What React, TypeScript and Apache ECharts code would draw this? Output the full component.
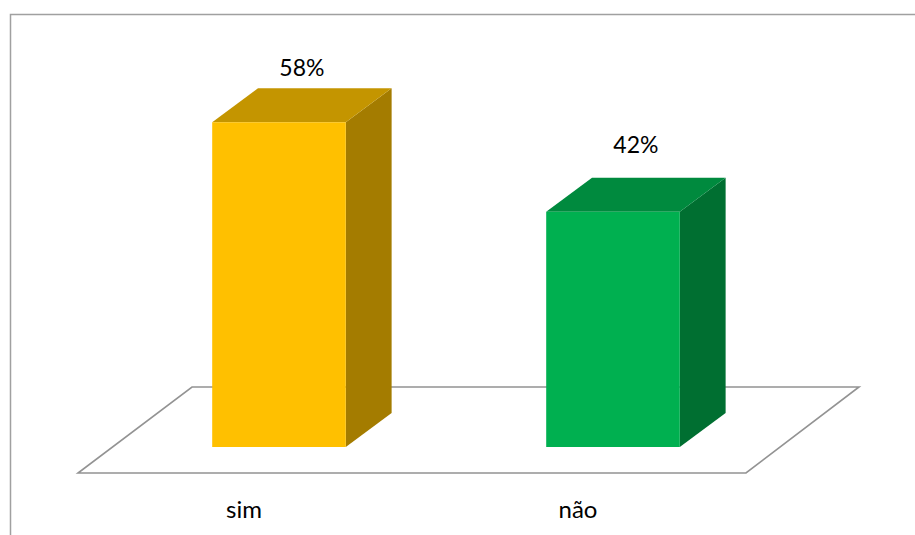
import React, { useEffect, useRef } from "react";
import * as echarts from "echarts";

const categories = ["sim", "não"];
const values = [58, 42];
const valueLabels = ["58%", "42%"];

const FRONT = ["#FFC000", "#00B050"];
const TOP = ["#C49500", "#008A3E"];
const SIDE = ["#A47C00", "#006F31"];
const LABEL_GAP = [11, 23];

export default function App() {
  const ref = useRef<HTMLDivElement>(null);
  useEffect(() => {
    const chart = echarts.init(ref.current!, null, { renderer: "svg" });
    const font = "Lato, 'Open Sans', sans-serif";
    chart.setOption({
      animation: false,
      backgroundColor: "#ffffff",
      grid: { left: 112, right: 135, top: 55, bottom: 88 },
      xAxis: {
        type: "category",
        data: categories,
        show: false,
      },
      yAxis: { type: "value", min: 0, max: 70, show: false },
      graphic: [
        {
          type: "rect",
          z: 0,
          shape: { x: 10.5, y: 14.5, width: 1000, height: 1000 },
          style: { fill: "none", stroke: "#A0A0A0", lineWidth: 1.5 },
        },
        {
          type: "polygon",
          z: 0,
          shape: {
            points: [
              [192, 387],
              [859, 387],
              [746, 473],
              [78, 473],
            ],
          },
          style: { fill: "#ffffff", stroke: "#939393", lineWidth: 1.6 },
        },
      ],
      series: [
        {
          type: "custom",
          z: 5,
          data: values.map((v, i) => [i, v]),
          renderItem: (params: any, api: any) => {
            const i = params.dataIndex;
            const xi = api.value(0);
            const v = api.value(1);
            const top = api.coord([xi, v]);
            const base = api.coord([xi, 0]);
            const band = api.size([1, 0])[0];
            const w = band * 0.4;
            const dx = w * 0.343;
            const dy = 34;
            const L = top[0] - w / 2;
            const R = top[0] + w / 2;
            const yT = top[1];
            const y0 = base[1];
            return {
              type: "group",
              children: [
                {
                  type: "polygon",
                  shape: { points: [[R, yT], [R + dx, yT - dy], [R + dx, y0 - dy], [R, y0]] },
                  style: { fill: SIDE[i] },
                },
                {
                  type: "polygon",
                  shape: { points: [[L, yT], [R, yT], [R + dx, yT - dy], [L + dx, yT - dy]] },
                  style: { fill: TOP[i] },
                },
                {
                  type: "rect",
                  shape: { x: L, y: yT, width: w, height: y0 - yT },
                  style: { fill: FRONT[i] },
                },
                {
                  type: "text",
                  style: {
                    text: valueLabels[i],
                    x: top[0] + dx / 2,
                    y: yT - dy - LABEL_GAP[i] + 1,
                    align: "center",
                    verticalAlign: "bottom",
                    fontSize: 23,
                    fontFamily: font,
                    fill: "#000000",
                  },
                },
                {
                  type: "text",
                  style: {
                    text: categories[i],
                    x: top[0] - 35,
                    y: 508,
                    align: "center",
                    verticalAlign: "middle",
                    fontSize: 24,
                    fontFamily: font,
                    fill: "#000000",
                  },
                },
              ],
            };
          },
        },
      ],
    });
    return () => chart.dispose();
  }, []);
  return (
    <div
      ref={ref}
      style={{ position: "fixed", left: 0, top: 0, width: 915, height: 535 }}
    />
  );
}
